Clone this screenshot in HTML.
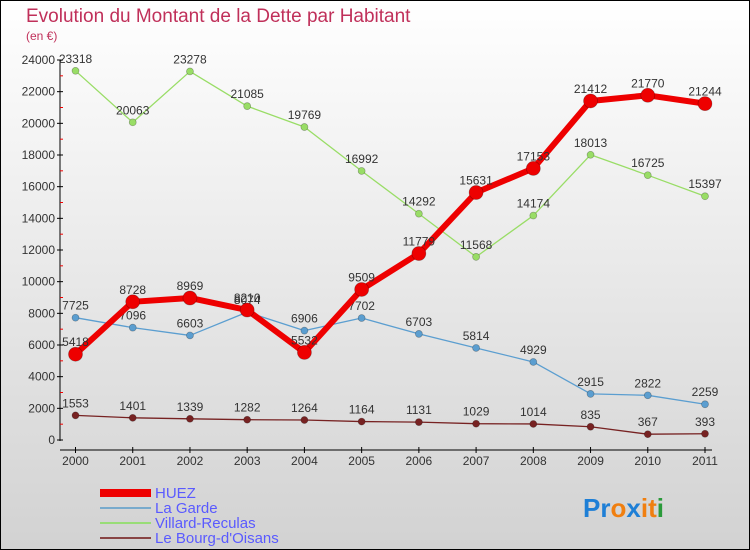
<!DOCTYPE html>
<html><head><meta charset="utf-8"><style>
body{margin:0}
#wrap{position:relative;width:750px;height:550px;overflow:hidden}
svg{display:block}
</style></head><body>
<div id="wrap">
<svg id="chart" width="750" height="550" xmlns="http://www.w3.org/2000/svg">
<defs><linearGradient id="bg" x1="0" y1="0" x2="0" y2="1"><stop offset="0" stop-color="#ffffff"/><stop offset="1" stop-color="#d2d2d2"/></linearGradient></defs>
<rect x="0.5" y="0.5" width="749" height="549" fill="url(#bg)" stroke="#000"/>
<text x="26" y="22" font-family="Liberation Sans, sans-serif" font-size="19" fill="#c0305a">Evolution du Montant de la Dette par Habitant</text>
<text x="26" y="40" font-family="Liberation Sans, sans-serif" font-size="12" fill="#c0305a">(en €)</text>
<g id="axes"></g><g id="series"></g>
<g font-family="Liberation Sans, sans-serif" font-size="15" fill="#5a5aff">
<rect x="100" y="489" width="51" height="8" fill="#ee0000"/>
<text x="155" y="498">HUEZ</text>
<rect x="100" y="507" width="51" height="2" fill="#78aacc"/>
<text x="155" y="513">La Garde</text>
<rect x="100" y="522" width="51" height="2" fill="#99dd77"/>
<text x="155" y="528">Villard-Reculas</text>
<rect x="100" y="537" width="51" height="2" fill="#884444"/>
<text x="155" y="543">Le Bourg-d'Oisans</text>
</g>
<g font-family="Liberation Sans, sans-serif" font-size="26" font-weight="bold">
<text x="583" y="517"><tspan fill="#1e7fd6">Pr</tspan><tspan fill="#f07f10">o</tspan><tspan fill="#1e7fd6">x</tspan><tspan fill="#f07f10">i</tspan><tspan fill="#f07f10">t</tspan><tspan fill="#2a9a3a">i</tspan></text>
</g>
</svg></div>
<script>
const years=[2000,2001,2002,2003,2004,2005,2006,2007,2008,2009,2010,2011];
const huez=[5418,8728,8969,8210,5532,9509,11779,15631,17153,21412,21770,21244];
const laGarde=[7725,7096,6603,8074,6906,7702,6703,5814,4929,2915,2822,2259];
const villard=[23318,20063,23278,21085,19769,16992,14292,11568,14174,18013,16725,15397];
const bourg=[1553,1401,1339,1282,1264,1164,1131,1029,1014,835,367,393];
const yTicks=[0,2000,4000,6000,8000,10000,12000,14000,16000,18000,20000,22000,24000];
const NS='http://www.w3.org/2000/svg';
const xS=i=>75.5+i*(705-75.5)/11;
const yS=v=>440-v*380/24000;
function el(tag,attrs,parent){const e=document.createElementNS(NS,tag);for(const k in attrs)e.setAttribute(k,attrs[k]);parent.appendChild(e);return e;}
const axes=document.getElementById('axes'),ser=document.getElementById('series');
const ya=el('line',{x1:60,y1:60,x2:60,y2:441,stroke:'#000'},axes);


yTicks.forEach(v=>{
 el('line',{x1:57,x2:63,y1:yS(v),y2:yS(v),stroke:'#000'},axes);
 if(v<24000)el('line',{x1:60,x2:63,y1:yS(v+1000),y2:yS(v+1000),stroke:'#e00'},axes);
 const t=el('text',{x:55,y:yS(v)+4,'text-anchor':'end','font-family':'Liberation Sans, sans-serif','font-size':12,fill:'#333'},axes);
 t.textContent=v;
 
 
});
const xa=el('line',{x1:60,y1:450,x2:712,y2:450,stroke:'#000'},axes);


years.forEach((y,i)=>{
 el('line',{x1:xS(i),x2:xS(i),y1:447,y2:453,stroke:'#000'},axes);
 const t=el('text',{x:xS(i),y:465,'text-anchor':'middle','font-family':'Liberation Sans, sans-serif','font-size':12,fill:'#333'},axes);
 t.textContent=y;
 
 
});
function draw(data,color,w,r,name){
 const g=el('g',{},ser);
 
 
 const pl=el('polyline',{points:data.map((v,i)=>xS(i)+','+yS(v)).join(' '),fill:'none',stroke:color,'stroke-width':w,'stroke-linejoin':'round'},g);
 
 
 data.forEach((v,i)=>{
  const c=el('circle',{cx:xS(i),cy:yS(v),r:r,fill:color,stroke:'rgba(0,0,0,0.3)','stroke-width':0.7},g);
  
  
  const t=el('text',{x:xS(i),y:yS(v)-8,'text-anchor':'middle','font-family':'Liberation Sans, sans-serif','font-size':12,fill:'#333'},g);
  t.textContent=v;
  
  
 });
}
draw(villard,'#99dd66',1.3,3.5,'villard-reculas');
draw(laGarde,'#5b9ed0',1.3,3.5,'la-garde');
draw(bourg,'#772222',1.3,3.5,'le-bourg-d-oisans');
draw(huez,'#ee0000',6,7,'huez');
</script>
</body></html>
